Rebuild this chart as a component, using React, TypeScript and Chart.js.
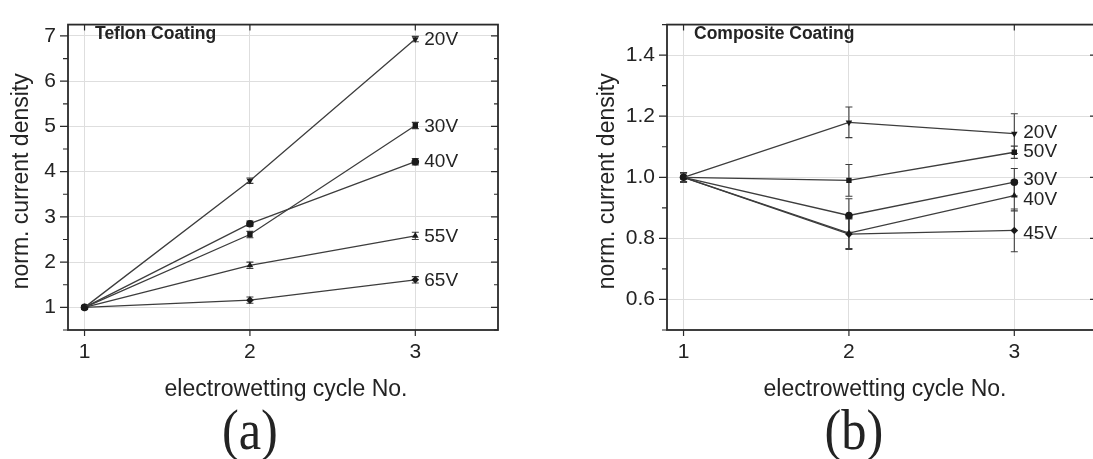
import React, { useEffect, useRef } from 'react';
import { Chart, registerables } from 'chart.js';

Chart.register(...registerables);

// ---------- data ----------
const cycles = [1, 2, 3];

// (a) Teflon coating
const teflonNames = ['20V', '30V', '40V', '55V', '65V'];
const teflon20 = [1.0, 3.8, 6.93];
const teflon30 = [1.0, 2.61, 5.02];
const teflon40 = [1.0, 2.85, 4.22];
const teflon55 = [1.0, 1.93, 2.58];
const teflon65 = [1.0, 1.16, 1.61];
const teflon20Err = [0.03, 0.06, 0.06];
const teflon30Err = [0.03, 0.07, 0.07];
const teflon40Err = [0.03, 0.06, 0.07];
const teflon55Err = [0.03, 0.07, 0.08];
const teflon65Err = [0.03, 0.07, 0.07];
const teflonLabelY = [6.91, 5.0, 4.22, 2.57, 1.59];

// (b) Composite coating
const compositeNames = ['20V', '50V', '30V', '40V', '45V'];
const composite20 = [1.0, 1.18, 1.143];
const composite50 = [1.0, 0.99, 1.082];
const composite30 = [1.0, 0.875, 0.984];
const composite40 = [1.0, 0.817, 0.94];
const composite45 = [1.0, 0.814, 0.826];
const composite20Err = [0.015, 0.05, 0.065];
const composite50Err = [0.015, 0.052, 0.02];
const composite30Err = [0.015, 0.055, 0.045];
const composite40Err = [0.015, 0.05, 0.05];
const composite45Err = [0.015, 0.05, 0.07];
const compositeLabelY = [1.146, 1.083, 0.993, 0.925, 0.816];

// tick values
const xTicks = [1, 2, 3];
const teflonYTicks = [1, 2, 3, 4, 5, 6, 7];
const compositeYTicks = [0.6, 0.8, 1.0, 1.2, 1.4];

const FONT = "'Liberation Sans', Arial, Helvetica, sans-serif";
const SERIF = "'Liberation Serif', 'Times New Roman', serif";
const INK = '#232323';
const LINE = '#3d3d3d';

type Panel = {
  title: string;
  letter: string;
  yMin: number;
  yMax: number;
  yStep: number;
  yDecimals: number;
  yTicks: number[];
  names: string[];
  series: number[][];
  errors: number[][];
  labelY: number[];
  styles: string[];
  rotations: number[];
};

const teflonPanel: Panel = {
  title: 'Teflon Coating',
  letter: '(a)',
  yMin: 0.5,
  yMax: 7.25,
  yStep: 1,
  yDecimals: 0,
  yTicks: teflonYTicks,
  names: teflonNames,
  series: [teflon20, teflon30, teflon40, teflon55, teflon65],
  errors: [teflon20Err, teflon30Err, teflon40Err, teflon55Err, teflon65Err],
  labelY: teflonLabelY,
  styles: ['triangle', 'rect', 'circle', 'triangle', 'rectRot'],
  rotations: [180, 0, 0, 0, 0],
};

const compositePanel: Panel = {
  title: 'Composite Coating',
  letter: '(b)',
  yMin: 0.5,
  yMax: 1.5,
  yStep: 0.2,
  yDecimals: 1,
  yTicks: compositeYTicks,
  names: compositeNames,
  series: [composite20, composite50, composite30, composite40, composite45],
  errors: [composite20Err, composite50Err, composite30Err, composite40Err, composite45Err],
  labelY: compositeLabelY,
  styles: ['triangle', 'rect', 'circle', 'triangle', 'rectRot'],
  rotations: [180, 0, 0, 0, 0],
};

const decorPlugin = {
  id: 'decor',
  beforeDatasetsDraw(chart: any, _args: any, opts: any) {
    const p: Panel = opts.panel;
    const ctx = chart.ctx;
    const xs = chart.scales.x;
    const ys = chart.scales.y;
    ctx.save();
    ctx.strokeStyle = LINE;
    ctx.lineWidth = 1.1;
    p.series.forEach((vals, i) => {
      vals.forEach((v, j) => {
        const e = p.errors[i][j];
        const px = xs.getPixelForValue(cycles[j]);
        const top = ys.getPixelForValue(v + e);
        const bot = ys.getPixelForValue(v - e);
        ctx.beginPath();
        ctx.moveTo(px, top);
        ctx.lineTo(px, bot);
        ctx.moveTo(px - 3.5, top);
        ctx.lineTo(px + 3.5, top);
        ctx.moveTo(px - 3.5, bot);
        ctx.lineTo(px + 3.5, bot);
        ctx.stroke();
      });
    });
    ctx.restore();
  },
  afterDraw(chart: any, _args: any, opts: any) {
    const p: Panel = opts.panel;
    const yTitleX: number = opts.yTitleX;
    const letterDx: number = opts.letterDx;
    const ctx = chart.ctx;
    const xs = chart.scales.x;
    const ys = chart.scales.y;
    const { left, right, top, bottom } = chart.chartArea;
    ctx.save();
    // frame
    ctx.strokeStyle = '#2a2a2a';
    ctx.lineWidth = 1.8;
    ctx.strokeRect(left, top, right - left, bottom - top);
    // ticks
    ctx.lineWidth = 1.2;
    ctx.beginPath();
    const half = p.yStep / 2;
    for (let k = 0; ; k++) {
      const v = Math.ceil(p.yMin / half - 1e-9) * half + k * half;
      if (v > p.yMax + 1e-9) break;
      const isMajor = Math.abs(v / p.yStep - Math.round(v / p.yStep)) < 1e-6;
      const py = ys.getPixelForValue(v);
      const lenL = isMajor ? 8 : 5;
      const lenR = isMajor ? 7 : 4;
      ctx.moveTo(left - lenL, py);
      ctx.lineTo(left, py);
      ctx.moveTo(right - lenR, py);
      ctx.lineTo(right, py);
    }
    xTicks.forEach((t) => {
      const px = xs.getPixelForValue(t);
      ctx.moveTo(px, bottom);
      ctx.lineTo(px, bottom + 6);
      ctx.moveTo(px, top);
      ctx.lineTo(px, top + 6);
    });
    ctx.stroke();

    // series labels
    ctx.fillStyle = INK;
    ctx.font = `19px ${FONT}`;
    ctx.textAlign = 'left';
    ctx.textBaseline = 'middle';
    const lx = xs.getPixelForValue(cycles[cycles.length - 1]) + 9;
    p.names.forEach((n, i) => {
      ctx.fillText(n, lx, ys.getPixelForValue(p.labelY[i]));
    });

    // panel title
    ctx.font = `bold 17.5px ${FONT}`;
    ctx.fillText(p.title, left + 27, 34);

    // axis titles
    ctx.font = `23px ${FONT}`;
    ctx.textAlign = 'center';
    ctx.textBaseline = 'alphabetic';
    ctx.fillText('electrowetting cycle No.', (left + right) / 2 + 3, 396);
    ctx.save();
    ctx.translate(yTitleX, (top + bottom) / 2 + 4);
    ctx.rotate(-Math.PI / 2);
    ctx.fillText('norm. current density', 0, 0);
    ctx.restore();

    // panel letter
    ctx.save();
    ctx.translate(xs.getPixelForValue(2) + letterDx, 449);
    ctx.scale(0.9, 1);
    ctx.font = `56px ${SERIF}`;
    ctx.textAlign = 'center';
    ctx.fillText(p.letter, 0, 0);
    ctx.restore();
    ctx.restore();
  },
};

type Frame = {
  canvasLeft: number;
  canvasWidth: number;
  padLeft: number;
  padRight: number;
  yTitleX: number;
  letterDx: number;
};

const teflonFrame: Frame = { canvasLeft: 0, canvasWidth: 599, padLeft: 0, padRight: 101, yTitleX: 28, letterDx: 0 };
const compositeFrame: Frame = { canvasLeft: 540, canvasWidth: 660, padLeft: 59, padRight: 103, yTitleX: 74, letterDx: 5 };

function PanelChart({ panel, frame }: { panel: Panel; frame: Frame }) {
  const ref = useRef<HTMLCanvasElement | null>(null);
  useEffect(() => {
    if (!ref.current) return;
    const chart = new Chart(ref.current, {
      type: 'line',
      data: {
        datasets: panel.series.map((vals, i) => ({
          label: panel.names[i],
          data: cycles.map((c, j) => ({ x: c, y: vals[j] })),
          borderColor: LINE,
          borderWidth: 1.3,
          backgroundColor: '#1a1a1a',
          pointBackgroundColor: '#1a1a1a',
          pointBorderColor: '#1a1a1a',
          pointBorderWidth: 0,
          pointStyle: panel.styles[i] as any,
          pointRotation: panel.rotations[i],
          pointRadius: 3.8,
          fill: false,
          tension: 0,
        })),
      },
      options: {
        animation: false,
        responsive: false,
        events: [],
        layout: { padding: { left: frame.padLeft, right: frame.padRight, top: 10, bottom: 0 } },
        plugins: {
          legend: { display: false },
          tooltip: { enabled: false },
          decor: { panel, yTitleX: frame.yTitleX, letterDx: frame.letterDx },
        } as any,
        scales: {
          x: {
            type: 'linear',
            min: 0.9,
            max: 3.5,
            afterFit: (s: any) => {
              s.height = 129;
            },
            grid: { color: '#dedede', lineWidth: 1, drawTicks: false },
            border: { display: false },
            ticks: {
              stepSize: 1,
              includeBounds: false,
              padding: 10,
              color: INK,
              font: { family: FONT, size: 21 },
              callback: (v: any) => String(v),
            },
          },
          y: {
            type: 'linear',
            min: panel.yMin,
            max: panel.yMax,
            afterFit: (s: any) => {
              s.width = 68;
            },
            afterBuildTicks: (s: any) => {
              s.ticks = panel.yTicks.map((v) => ({ value: v }));
            },
            grid: { color: '#dedede', lineWidth: 1, drawTicks: false },
            border: { display: false },
            ticks: {
              padding: 12,
              color: INK,
              font: { family: FONT, size: 21 },
              callback: (v: any) => Number(v).toFixed(panel.yDecimals),
            },
          },
        },
      },
      plugins: [decorPlugin as any],
    });
    return () => chart.destroy();
  }, [panel, frame]);
  return (
    <canvas
      ref={ref}
      width={frame.canvasWidth}
      height={459}
      style={{ position: 'absolute', left: frame.canvasLeft, top: 0, width: frame.canvasWidth, height: 459 }}
    />
  );
}

export default function App() {
  return (
    <div
      style={{
        position: 'absolute',
        left: 0,
        top: 0,
        width: 1093,
        height: 459,
        overflow: 'hidden',
        background: '#ffffff',
      }}
    >
      <PanelChart panel={teflonPanel} frame={teflonFrame} />
      <PanelChart panel={compositePanel} frame={compositeFrame} />
    </div>
  );
}
